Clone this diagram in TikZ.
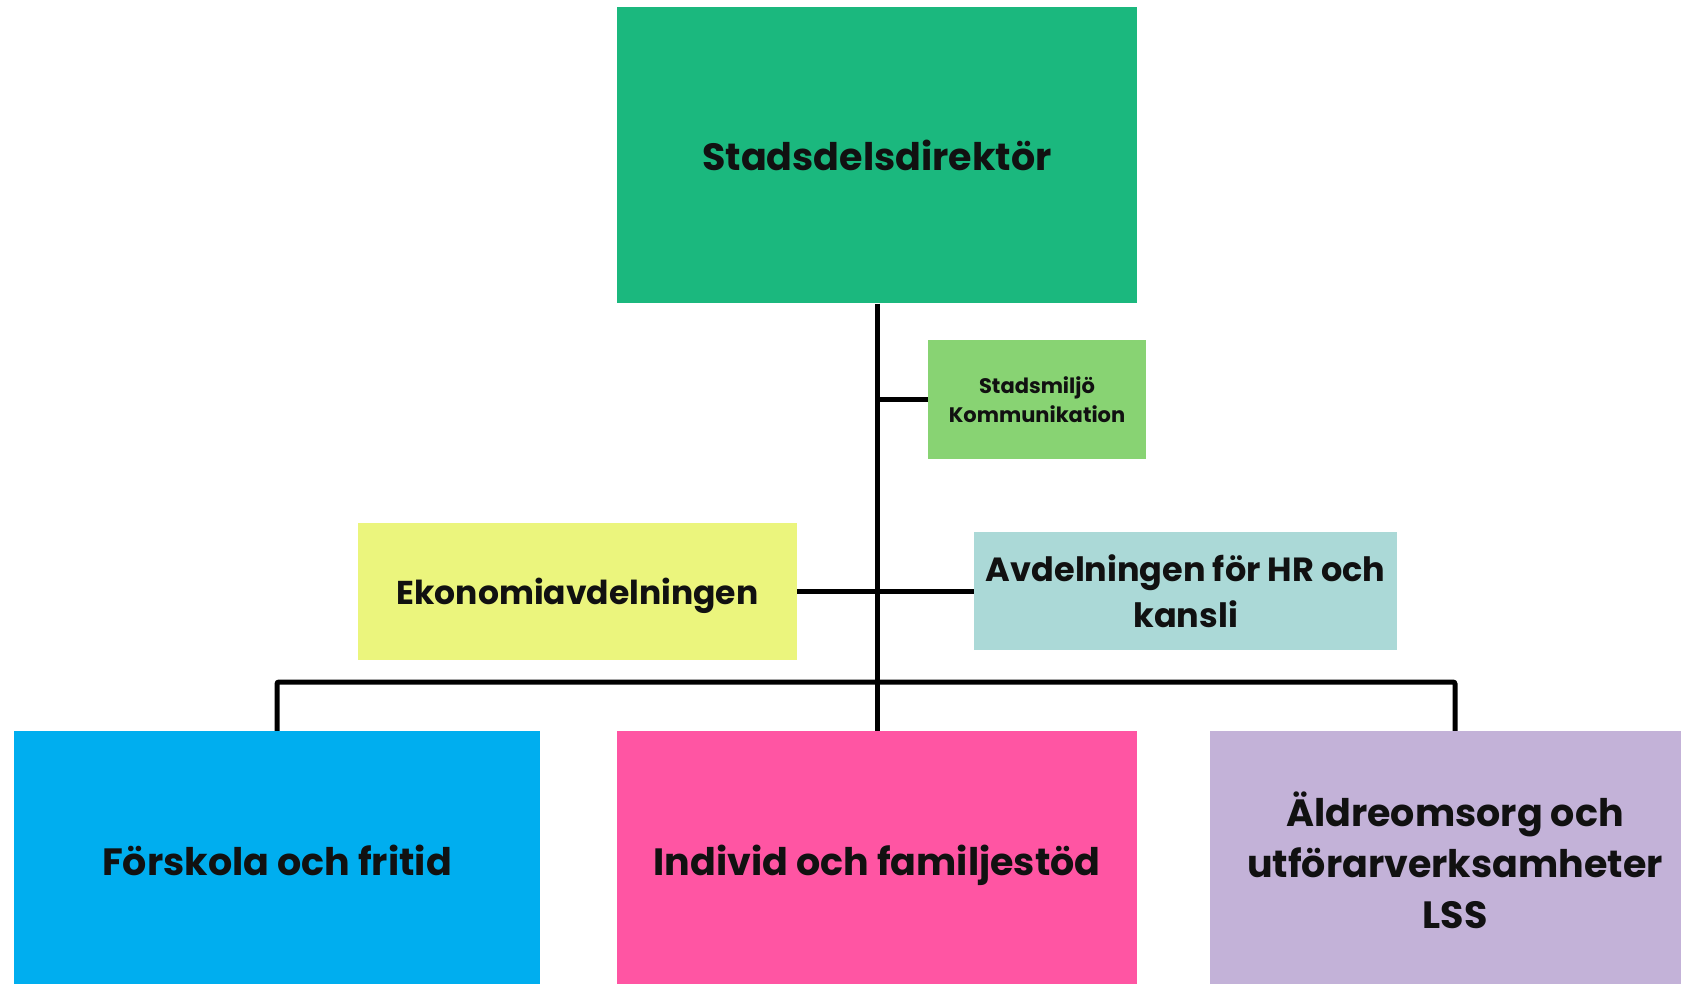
\documentclass[tikz,border=0pt]{standalone}
\usepackage{fontspec}
\setmainfont{Poppins}
\definecolor{dirgreen}{HTML}{1BB87E}
\definecolor{miljogreen}{HTML}{88D373}
\definecolor{ekoyellow}{HTML}{EBF57D}
\definecolor{hrteal}{HTML}{ABD9D7}
\definecolor{forskolablue}{HTML}{00AEEF}
\definecolor{ifopink}{HTML}{FF55A3}
\definecolor{aldrelilac}{HTML}{C3B2D8}
\definecolor{inkblack}{HTML}{111111}
\begin{document}
\begin{tikzpicture}[x=1pt,y=-1pt,
        orgbox/.style={fill=#1, inner sep=0pt, align=center, text=inkblack},
        conn/.style={line width=5pt, draw=black}]
        \def\trunkX{877}
        \def\midY{591}
        \def\bigfont{\bfseries\fontsize{33.5}{46}\selectfont}
        \def\lowfont{\bfseries\fontsize{38}{51}\selectfont}

        \useasboundingbox (0,0) rectangle (1681,984);
        \clip (0,0) rectangle (1681,984);

        \node[orgbox=dirgreen, minimum width=520pt, minimum height=296pt, font=\bfseries\fontsize{38}{46}\selectfont] (dir) at (\trunkX,155.5) {Stadsdelsdirektör};
        \node[orgbox=miljogreen, minimum width=218pt, minimum height=119pt, font=\bfseries\fontsize{21}{29}\selectfont] (miljo) at (1037,399.5) {Stadsmiljö\\Kommunikation};
        \node[orgbox=ekoyellow, minimum width=439pt, minimum height=137pt, text depth=0pt, font=\bfseries\fontsize{33}{46}\selectfont] (eko) at (577.5,\midY) {Ekonomiavdelningen};
        \node[orgbox=hrteal, minimum width=422.5pt, minimum height=118pt, font=\bigfont] (hr) at (1185.7,\midY) {Avdelningen för HR och\\kansli};
        \node[orgbox=forskolablue, minimum width=526pt, minimum height=258pt, font=\lowfont] (forskola) at (277,860) {Förskola och fritid};
        \node[orgbox=ifopink, minimum width=520pt, minimum height=258pt, text depth=0pt, font=\lowfont] (ifo) at (\trunkX,860) {Individ och familjestöd};
        \node[orgbox=aldrelilac, minimum width=490pt, minimum height=258pt, font=\lowfont] (aldre) at (1455,860) {Äldreomsorg och\\utförarverksamheter\\LSS};

        \coordinate (bus) at (\trunkX,682);

        \draw[conn] (dir.south) -- (ifo.north);
        \draw[conn] (dir.south |- miljo.west) -- (miljo.west);
        \draw[conn] (eko.east) -- (hr.west);
        \draw[conn, rounded corners=2pt] (forskola.north) |- (bus) -| (aldre.north);
    \end{tikzpicture}
\end{document}
